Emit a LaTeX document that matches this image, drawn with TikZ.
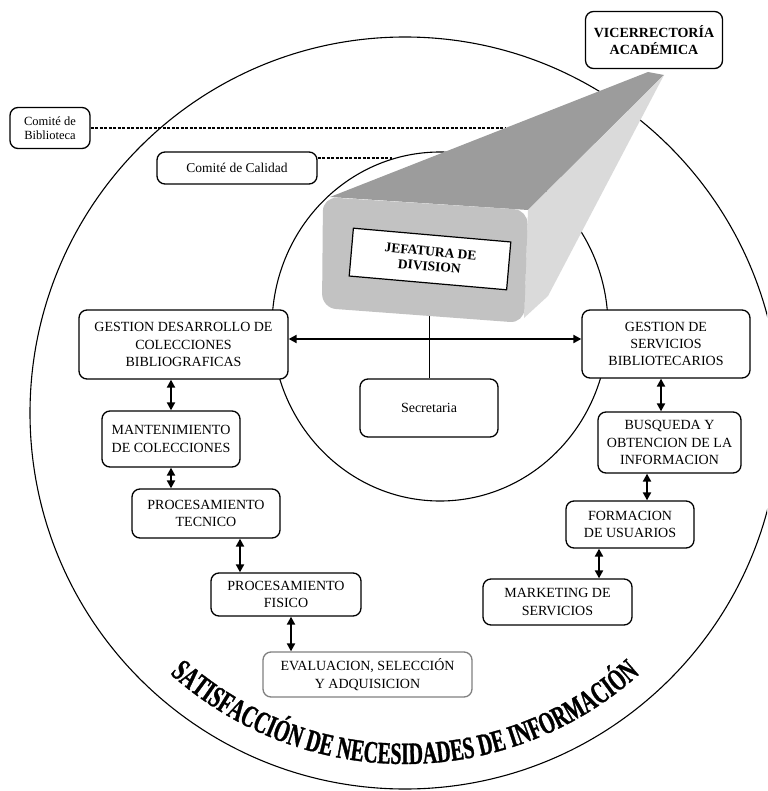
\documentclass[tikz,border=0pt]{standalone}
\usepackage{fontspec}
\setmainfont{Liberation Serif}
\newfontfamily\arcfont[FakeStretch=0.64,FakeBold=1]{Liberation Serif Bold}
\usetikzlibrary{arrows.meta,decorations.text,calc}
\definecolor{topf}{HTML}{9C9C9C}
\definecolor{frontf}{HTML}{C2C2C2}
\definecolor{sidef}{HTML}{DADADA}
\tikzset{
  box/.style={draw, fill=white, rounded corners=8pt, line width=1.3pt, align=center,
    font=\fontsize{14}{17.3}\selectfont, inner sep=1pt},
  dbl/.style={{Triangle[width=8pt,length=8pt]}-{Triangle[width=8pt,length=8pt]}, line width=2pt},
  dashline/.style={dash pattern=on 3pt off 1.5pt, line width=1.6pt},
  ring/.style={line width=1.1pt}
}
\begin{document}
\begin{tikzpicture}[x=1pt,y=1pt]
\useasboundingbox (0,-791) rectangle (767,0);
\clip (0,-791) rectangle (767,0);
% rings
\draw[ring] (405,-413) ellipse [x radius=375, y radius=376];
\draw[ring] (440,-326.5) ellipse [x radius=168, y radius=174.5];
% committees
\node[box, font=\fontsize{12.5}{14}\selectfont, minimum width=80, minimum height=41] (cbib) at (50,-128) {Comité de\\Biblioteca};
\node[box, font=\fontsize{13.5}{15}\selectfont, minimum width=160, minimum height=32] (ccal) at (237,-168) {Comité de Calidad};
\coordinate (cbibend) at (505,-128);
\coordinate (ccalend) at (392,-158);
\draw[dashline] (cbib.east) -- (cbibend);
\draw[dashline] ([yshift=10pt]ccal.east) -- (ccalend);
% secretaria
\node[box, minimum width=138, minimum height=58] (sec) at (429,-408) {Secretaria};
\coordinate (beamb) at (429,-300);
\draw[line width=1pt] (sec.north) -- (sec.north |- beamb);
% beam
\fill[topf] (648,-72) -- (664,-75) -- (528,-210) -- (330,-197) -- cycle;
\fill[sidef] (664,-75) -- (548,-296) -- (524,-318) -- (528,-210) -- cycle;
\fill[frontf, rounded corners=14pt] (323,-197) -- (528,-210) -- (524,-323) -- (322,-308) -- cycle;
\node[draw, fill=white, rotate=-5, line width=1.2pt, minimum width=158, minimum height=48,
  align=center, font=\bfseries\fontsize{13.5}{15}\selectfont] (jef) at (430,-259) {JEFATURA DE\\DIVISION};
% vicerrectoria
\node[box, font=\bfseries\fontsize{14}{17}\selectfont, minimum width=137, minimum height=57] (vice) at (654,-40) {VICERRECTORÍA\\ACADÉMICA};
% left branch
\node[box, minimum width=209, minimum height=69] (gdc) at (183.5,-344.5) {GESTION DESARROLLO DE\\COLECCIONES\\BIBLIOGRAFICAS};
\node[box, minimum width=138, minimum height=56] (mant) at (171,-439) {MANTENIMIENTO\\DE COLECCIONES};
\node[box, minimum width=148, minimum height=49] (ptec) at (206,-513.5) {PROCESAMIENTO\\TECNICO};
\node[box, minimum width=150, minimum height=43] (pfis) at (286,-594.5) {PROCESAMIENTO\\FISICO};
\node[box, draw=gray, minimum width=209, minimum height=45] (eval) at (367.5,-674.5) {EVALUACION, SELECCIÓN\\Y ADQUISICION};
% right branch
\node[box, minimum width=168, minimum height=68] (gsb) at (666,-344) {GESTION DE\\SERVICIOS\\BIBLIOTECARIOS};
\node[box, minimum width=143, minimum height=61] (busq) at (669.5,-442.5) {BUSQUEDA Y\\OBTENCION DE LA\\INFORMACION};
\node[box, minimum width=128, minimum height=47] (form) at (630,-524.5) {FORMACION\\DE USUARIOS};
\node[box, minimum width=149, minimum height=46] (mark) at (557.5,-602) {MARKETING DE\\SERVICIOS};
% connectors
\coordinate (hl) at (0,-339);
\draw[dbl] (gdc.east |- hl) -- (gsb.west |- hl);
\draw[dbl] (mant.north |- gdc.south) -- (mant.north);
\draw[dbl] (mant.south) -- (mant.south |- ptec.north);
\draw[dbl] ([xshift=34pt]ptec.south) -- ([xshift=34pt]ptec.south |- pfis.north);
\draw[dbl] ([xshift=5pt]pfis.south) -- ([xshift=5pt]pfis.south |- eval.north);
\draw[dbl] ([xshift=-5pt]gsb.south) -- ([xshift=-5pt]gsb.south |- busq.north);
\draw[dbl] ([xshift=17pt]form.north |- busq.south) -- ([xshift=17pt]form.north);
\draw[dbl] ([xshift=41.5pt]mark.north |- form.south) -- ([xshift=41.5pt]mark.north);
% arc text
\path[decorate, decoration={text along path, text align=center,
  text={|\arcfont\fontsize{31}{31}\selectfont|SATISFACCIÓN DE NECESIDADES DE INFORMACIÓN}}]
  ($(405,-413)+(215:351)$) arc [start angle=215, end angle=325, radius=351];
\end{tikzpicture}
\end{document}
